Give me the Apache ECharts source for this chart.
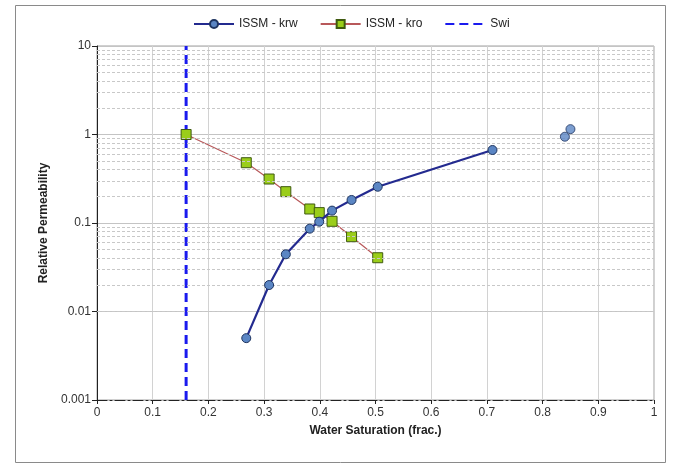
<!DOCTYPE html>
<html>
<head>
<meta charset="utf-8">
<script src="https://cdn.jsdelivr.net/npm/echarts@6/dist/echarts.min.js"></script>
<style>
  html, body { margin: 0; padding: 0; background: #fff; }
  #chart { width: 675px; height: 470px; }
</style>
</head>
<body>
<div id="chart"></div>
<script>
// Water relative permeability (krw) vs water saturation
const krwSw = [0.268, 0.309, 0.339, 0.382, 0.399, 0.422, 0.457, 0.504, 0.710];
const krw   = [0.0050, 0.0199, 0.0443, 0.0863, 0.1035, 0.138, 0.182, 0.257, 0.668];
// Separate krw measurements at high saturation (not joined to the curve)
const krwExtraSw = [0.840, 0.850];
const krwExtra   = [0.944, 1.15];
// Oil relative permeability (kro) vs water saturation
const kroSw = [0.160, 0.268, 0.309, 0.339, 0.382, 0.399, 0.422, 0.457, 0.504];
const kro   = [1.0, 0.48, 0.314, 0.226, 0.144, 0.131, 0.1045, 0.070, 0.0405];
// Irreducible water saturation
const swi = 0.16;
// Axis ranges
const yDecades = [0.001, 0.01, 0.1, 1, 10];
const xTicks = [0, 0.1, 0.2, 0.3, 0.4, 0.5, 0.6, 0.7, 0.8, 0.9, 1];

const zip = (xs, ys) => xs.map((x, i) => [x, ys[i]]);

// Minor log gridlines (2..9 within each decade)
const minorGrid = [];
for (let d = 0; d < yDecades.length - 1; d++) {
  for (let m = 2; m <= 9; m++) minorGrid.push({ yAxis: +(yDecades[d] * m).toPrecision(3) });
}

const fmt = v => String(+(+v).toPrecision(3));
const FONT = "'Liberation Sans', Arial, sans-serif";

const chart = echarts.init(document.getElementById('chart'), null, { renderer: 'canvas' });
chart.setOption({
  animation: false,
  backgroundColor: '#fff',
  textStyle: { fontFamily: FONT },
  graphic: [{
    type: 'rect', silent: true, z: -10,
    shape: { x: 15.5, y: 5.5, width: 650, height: 457 },
    style: { fill: 'none', stroke: '#8a8a8a', lineWidth: 1 }
  }],
  legend: {
    top: 13, left: 188,
    itemWidth: 40, itemHeight: 10, itemGap: 22,
    textStyle: { fontFamily: FONT, fontSize: 12, color: '#222' },
    data: [
      'ISSM - krw',
      'ISSM - kro',
      { name: 'Swi', itemStyle: { opacity: 0 } }
    ]
  },
  grid: {
    left: 97, right: 21, top: 46, bottom: 70,
    show: true, borderColor: '#a0a0a0', borderWidth: 1
  },
  xAxis: {
    type: 'value', min: 0, max: 1, interval: 0.1,
    name: 'Water Saturation (frac.)', nameLocation: 'middle', nameGap: 25,
    nameTextStyle: { fontFamily: FONT, fontSize: 12, fontWeight: 'bold', color: '#222' },
    axisLine: { onZero: false, lineStyle: { color: '#222', width: 1, type: [10, 3, 2, 3] } },
    axisTick: { show: true, length: 4, lineStyle: { color: '#222' } },
    axisLabel: { fontFamily: FONT, fontSize: 12, color: '#333', margin: 7, formatter: fmt },
    splitLine: { show: true, lineStyle: { color: '#d2d2d2', width: 1 } }
  },
  yAxis: {
    type: 'log', logBase: 10, min: 0.001, max: 10,
    name: 'Relative Permeability', nameLocation: 'middle', nameGap: 44, nameRotate: 90,
    nameTextStyle: { fontFamily: FONT, fontSize: 12, fontWeight: 'bold', color: '#222' },
    axisLine: { show: true, lineStyle: { color: '#222', width: 1 } },
    axisTick: { show: true, length: 5, lineStyle: { color: '#222' } },
    axisLabel: { fontFamily: FONT, fontSize: 12, color: '#333', margin: 6, formatter: fmt },
    splitLine: { show: true, lineStyle: { color: '#c4c4c4', width: 1 } }
  },
  series: [
    {
      name: 'gridMinor', type: 'line', data: [], silent: true, z: 0,
      markLine: {
        silent: true, symbol: 'none', animation: false,
        label: { show: false },
        lineStyle: { color: '#c8c8c8', width: 1, type: [3, 2] },
        data: minorGrid
      }
    },
    {
      name: 'Swi', type: 'line', z: 3,
      data: [[swi, yDecades[0]], [swi, yDecades[yDecades.length - 1]]],
      showSymbol: false, symbol: 'none',
      lineStyle: { color: '#1a1aee', width: 3, type: [9, 5] },
      itemStyle: { color: '#1a1aee' }
    },
    {
      name: 'ISSM - kro', type: 'line', z: 4,
      data: zip(kroSw, kro),
      symbol: 'rect', symbolSize: 10,
      lineStyle: { color: '#b8585a', width: 1.2 },
      itemStyle: { color: '#9acd1a', borderColor: '#3f5a10', borderWidth: 1 }
    },
    {
      name: 'ISSM - krw', type: 'line', z: 5,
      data: zip(krwSw, krw),
      symbol: 'circle', symbolSize: 9,
      lineStyle: { color: '#232a8f', width: 2.2 },
      itemStyle: { color: '#5b86c4', borderColor: '#1f3560', borderWidth: 1 }
    },
    {
      name: 'ISSM - krw', type: 'scatter', z: 5,
      data: zip(krwExtraSw, krwExtra),
      symbol: 'circle', symbolSize: 9,
      itemStyle: { color: '#5b86c4', borderColor: '#1f3560', borderWidth: 1 }
    }
  ]
});
</script>
</body>
</html>
